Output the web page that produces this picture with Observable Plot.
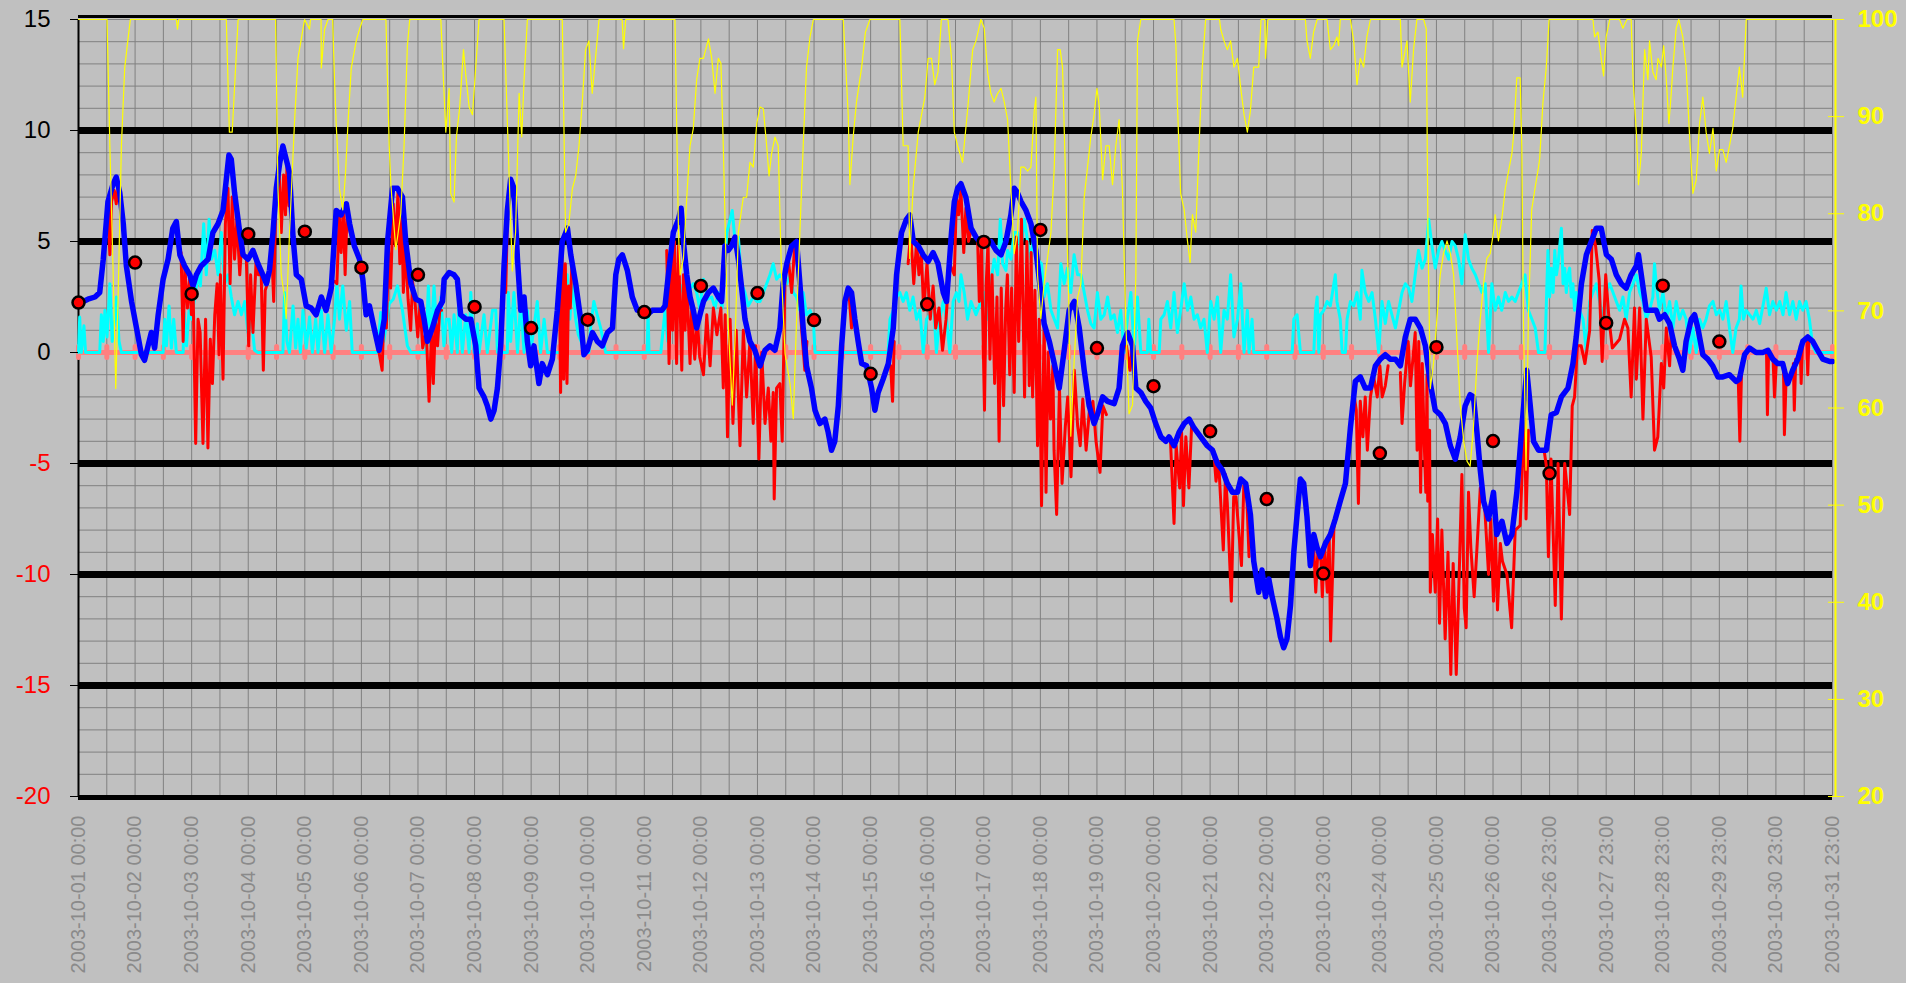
<!DOCTYPE html>
<html>
<head>
<meta charset="utf-8">
<script src="https://cdn.jsdelivr.net/npm/d3@7"></script>
<script src="https://cdn.jsdelivr.net/npm/@observablehq/plot@0.6"></script>
<style>
  html, body { margin: 0; padding: 0; background: #ffffff; }
  #chart { width: 1906px; height: 983px; background: #c0c0c0; overflow: hidden; }
</style>
</head>
<body>
<div id="chart"></div>
<script>
// ---------- DATA ----------
// x = hours since 2003-10-01 00:00 (31 days, 744 hours)
const dayLabels = [
  "2003-10-01 00:00","2003-10-02 00:00","2003-10-03 00:00","2003-10-04 00:00","2003-10-05 00:00",
  "2003-10-06 00:00","2003-10-07 00:00","2003-10-08 00:00","2003-10-09 00:00","2003-10-10 00:00",
  "2003-10-11 00:00","2003-10-12 00:00","2003-10-13 00:00","2003-10-14 00:00","2003-10-15 00:00",
  "2003-10-16 00:00","2003-10-17 00:00","2003-10-18 00:00","2003-10-19 00:00","2003-10-20 00:00",
  "2003-10-21 00:00","2003-10-22 00:00","2003-10-23 00:00","2003-10-24 00:00","2003-10-25 00:00",
  "2003-10-26 00:00","2003-10-26 23:00","2003-10-27 23:00","2003-10-28 23:00","2003-10-29 23:00",
  "2003-10-30 23:00","2003-10-31 23:00"
];
const leftTicks = [15, 10, 5, 0, -5, -10, -15, -20];
const rightTicks = [100, 90, 80, 70, 60, 50, 40, 30, 20];
const thickLevels = [10, 5, -5, -10, -15];

// daily values (red dots), one per day at 00:00
const dailyValues = [2.25,4.05,2.64,5.33,5.44,3.82,3.5,2.05,1.1,1.48,1.82,3.0,2.68,1.46,-0.96,
  2.17,4.98,5.52,0.2,-1.52,-3.55,-6.6,-9.96,-4.54,0.24,-3.99,-5.44,1.33,3.01,0.49];

// smoothed series (blue) [hour, value]
const blueSeries = [
[0,2.2],[2,2.3],[4,2.4],[7,2.5],[9,2.7],[10.5,4.2],[12.5,6.8],[14.7,7.6],[16,7.9],[17.5,7.2],[19,5.8],[20.3,3.9],[22.5,2.3],[24.6,1.1],[26.7,-0.1],[28,-0.35],[29.5,0.3],[30.9,0.9],[32.3,0.2],[33.8,1.7],[35.9,3.3],[38,4.2],[40,5.6],[41.5,5.9],[43,4.4],[45,3.9],[47.2,3.5],[48.6,3.0],[50,3.5],[52,3.9],[55,4.2],[57,5.4],[59.2,5.8],[61.3,6.4],[62.7,7.8],[63.8,8.9],[64.8,8.7],[66.2,7.2],[68.4,5.4],[69.8,4.4],[71.9,4.2],[74,4.6],[76.1,4.0],[78.2,3.5],[79.7,3.1],[81,3.7],[82.5,5.4],[83.9,7.4],[85.3,8.5],[86.7,9.3],[88.1,8.7],[89.5,8.1],[91,5.2],[92.4,3.5],[94.5,3.3],[96.6,2.1],[98.7,2.0],[100.8,1.7],[103,2.5],[105,1.9],[107.2,2.9],[109.3,6.4],[111.4,6.2],[113.6,6.7],[115,5.8],[117,4.8],[119.2,4.2],[120.6,3.3],[122,1.7],[123.4,2.1],
[125.4,1.1],[127.5,0.1],[129.7,1.5],[131.1,5.0],[133.2,7.4],[135.3,7.4],[137.4,7.0],[138.8,5.0],[141,3.1],[143.1,2.4],[145.2,2.3],[146.6,1.5],[148,0.5],[150.1,1.1],[152.3,1.9],[154.4,2.3],[155.1,3.3],[157.2,3.6],[159.3,3.5],[160.7,3.3],[162.1,1.7],[164.3,1.5],[166.4,1.5],[168.5,0.3],[169.9,-1.6],[172,-2.0],[173.4,-2.4],[174.9,-3.0],[176.3,-2.6],[177.7,-1.6],[179.1,0.3],[180.5,3.9],[181.9,6.4],[183.3,7.8],[184.7,7.4],[186.2,4.2],[187.6,1.9],[189,2.5],[190.4,0.5],[191.8,-0.6],[193.2,0.3],[195.3,-1.4],[196.7,-0.5],[198.9,-1.0],[201,-0.3],[203.1,1.9],[205.2,5.0],[207.4,5.6],[208.8,4.4],[210.9,3.1],[213,1.5],[214.4,-0.1],[215.8,0.1],[218,0.9],[220.1,0.5],[222.2,0.3],[224.4,0.9],[226.5,1.1],[227.9,3.5],[229.2,4.2],[230.7,4.4],[232.8,3.7],[234.9,2.5],[237,1.9],[239.1,1.9],[241.2,1.7],[243.4,1.9],[246.2,1.9],
[247.4,1.9],[248.8,2.1],[250.2,3.5],[252.3,5.4],[254.5,6.0],[255.6,6.5],[256.6,5.0],[258,3.5],[259.4,2.5],[260.8,1.9],[262.2,1.1],[263.6,1.7],[265.1,2.3],[267.2,2.7],[269.3,2.9],[271.4,2.5],[272.8,2.3],[274.2,4.8],[275.6,4.6],[277,4.8],[278.5,5.2],[279.9,4.2],[281.3,2.9],[282.7,1.5],[284.8,0.5],[286.9,0.1],[289.1,-0.6],[291.2,0.1],[293.3,0.3],[295.4,0.1],[297.5,1.1],[298.9,3.1],[300.4,4.0],[302.5,4.8],[304.6,5.0],[306,3.1],[307.4,1.1],[308.8,-0.6],[310.9,-1.6],[312.4,-2.6],[314.5,-3.2],[316.6,-3.0],[318,-3.6],[319.4,-4.4],[320.8,-4.0],[322.3,-2.4],[323.7,0.3],[325.1,2.3],[326.5,2.9],[327.9,2.7],[329.3,1.5],[330.7,0.5],[332.2,-0.5],[334.3,-0.6],[336.4,-1.6],[337.8,-2.6],[339.2,-1.8],[341.3,-1.2],[343.5,-0.5],[345.6,1.1],[347,3.5],[349.1,5.4],[351.2,6.0],[352.6,6.2],[354.1,5.0],[356.2,4.8],[358.3,4.4],[360.4,4.1],[362.5,4.5],[364.6,4.0],[366.8,2.7],[368.2,2.3],[370.3,5.4],
[371.5,6.8],[372.9,7.4],[374.3,7.6],[376.4,7.0],[378.6,5.6],[380.7,5.2],[382.8,4.9],[384.9,5.0],[387,5.0],[389.2,4.6],[391.3,4.4],[393.4,5.0],[395.5,6.2],[396.9,7.4],[398.3,7.2],[399.8,6.8],[401.9,6.4],[404,5.8],[406.1,4.6],[408.2,2.7],[409.6,1.3],[411.8,0.5],[413.9,-0.5],[416,-1.6],[418.1,0.1],[420.2,1.9],[422.4,2.3],[424.5,1.1],[426.6,-0.8],[428.7,-2.4],[430.8,-3.2],[432.2,-2.8],[434.4,-2.0],[436.5,-2.2],[439.3,-2.3],[441.4,-1.6],[442.8,0.3],[445,0.9],[447.1,0.3],[448.5,-1.6],[450.6,-1.8],[452.7,-2.2],[454.8,-2.5],[456.9,-3.2],[459.1,-3.8],[461.2,-4.0],[462.6,-3.8],[464.7,-4.2],[466.8,-3.6],[469,-3.2],[471.1,-3.0],[473.2,-3.4],[476,-3.8],[478.8,-4.2],[481,-4.4],[483.1,-5.0],[485.2,-5.3],[487.3,-5.9],[489.5,-6.3],[491.6,-6.3],[493,-5.7],[495.1,-5.9],
[497.1,-7.3],[498.5,-9.4],[500.6,-10.8],[502,-9.8],[503.5,-11.0],[504.9,-10.2],[506.3,-11.0],[508.4,-12.0],[509.8,-12.8],[511.2,-13.3],[512.6,-12.9],[514.1,-11.4],[515.5,-9.0],[516.9,-7.3],[518.3,-5.7],[519.7,-5.9],[521.1,-7.4],[522.5,-9.6],[524,-8.2],[525.4,-8.8],[526.8,-9.2],[528.9,-8.6],[531,-8.2],[533.1,-7.5],[535.2,-6.7],[537.4,-5.9],[539.5,-3.4],[541.6,-1.3],[543.7,-1.1],[545.8,-1.6],[548,-1.6],[550.1,-0.6],[552.2,-0.3],[554.3,-0.1],[556.4,-0.3],[558.6,-0.3],[560.7,-0.6],[562.8,0.7],[564.9,1.5],[567,1.5],[569.2,1.1],[571.3,0.3],[573.4,-1.4],[575.5,-2.6],[577.6,-2.8],[579.8,-3.2],[581.9,-4.2],[584,-4.8],[586.1,-3.8],[588.2,-2.4],[590.3,-1.9],[591.7,-2.0],[593.2,-3.6],[594.6,-5.3],[596,-6.7],[598.1,-7.5],[600.2,-6.3],[601.6,-8.2],[603.8,-7.6],[605.9,-8.6],[608,-8.2],[610.1,-6.3],[612.2,-3.4],[614.3,-0.8],[615.8,-2.4],[617.2,-4.0],[619.3,-4.4],
[622.6,-4.4],[624.7,-2.8],[626.9,-2.7],[629,-2.0],[631.8,-1.6],[633.9,-0.5],[635.3,0.7],[637.5,3.1],[639.6,4.4],[641.7,5.0],[643.8,5.6],[645.9,5.6],[648.1,4.4],[650.2,4.2],[652.3,3.5],[654.4,3.1],[656.5,2.9],[658.6,3.5],[660.8,3.9],[661.7,4.4],[662.9,3.5],[665,1.9],[667.1,1.9],[669.2,1.9],[670.6,1.5],[672.8,1.7],[674.9,1.3],[677,0.3],[679.1,-0.3],[680.5,-0.8],[681.9,0.5],[684.1,1.5],[685.5,1.7],[686.9,1.1],[689,-0.1],[691.1,-0.3],[693.2,-0.6],[695.4,-1.1],[697.5,-1.1],[700.3,-1.0],[703.1,-1.3],[704.5,-1.2],[706.7,-0.1],[708.8,0.2],[711.6,0.0],[714.4,0.0],[716.6,0.1],[718.7,-0.3],[720.8,-0.5],[722.9,-0.5],[725,-1.4],[727.1,-0.8],[729.3,-0.3],[731.4,0.5],[733.5,0.7],[735.6,0.5],[737.7,0.1],[739.9,-0.3],[742.7,-0.4],[744,-0.4]
];

// raw series (red), visible segments [hour, value]
const redSegments = [
[[12.5,6.5],[13.3,4.4],[14,6.8],[15.2,7.3],[16,6.7],[17,7.6]],
[[43.5,4.5],[44.4,0.5],[45.1,3.9],[46.2,2.0],[47.2,3.4],[47.9,1.7],[48.6,2.9],[49.7,-4.1],[50.7,1.5],[51.6,0.9],[52.8,-4.1],[53.9,1.5],[54.9,-4.3],[55.9,0.6],[56.8,-1.4],[57.8,1.7],[58.8,3.1],[59.6,-0.1],[60.2,3.5],[61.3,-1.2],[62.3,5.8],[63.4,7.4],[64.3,3.1],[65.2,7.0],[66.2,4.2],[67.2,6.0],[68.4,3.5],[69.3,5.0],[70.2,4.4],[71.2,4.2],[72.2,0.3],[73,3.5],[74,0.9],[75.4,4.3],[76.3,3.5],[77.5,3.5],[78.4,-0.8],[79.2,2.8],[80.4,3.2]],
[[82,4.5],[82.8,2.3],[83.6,6.5],[85,8.5],[86,5.4],[87,8.0],[87.8,6.2],[88.5,8.6],[89.3,6.6],[90.3,7.5]],
[[108.6,3.2],[109.6,3.1],[110.6,6.2],[111.4,4.5],[112.3,6.5],[113.1,3.5],[114,6.6],[115,5.5],[116.4,4.9]],
[[127,0.3],[128.8,-0.8],[129.5,1.6],[130.6,1.1],[131.5,4.6],[132.4,2.9],[133.5,6.7],[134.5,4.8],[135.5,7.2],[136.3,4.0],[137,6.8],[137.8,2.7],[138.6,4.8],[139.8,2.4],[140.9,1.0],[141.7,3.2],[142.8,2.2],[143.9,0.7],[144.9,2.2],[146,0.2],[147.5,1.0],[148.7,-2.2],[149.8,1.1],[150.5,-1.4],[151.4,1.4],[152.3,0.3],[153.2,1.9],[154,1.9]],
[[180.5,3.0],[181.2,2.7],[182,6.3],[183,7.6]],
[[204,3.0],[204.5,-1.8],[205.1,4.5],[205.8,-1.2],[206.5,4.0],[207.2,-1.4],[207.9,3.0],[208.6,2.0],[209.4,4.3]],
[[249.5,4.6],[250.5,-0.5],[251.3,4.5],[252,1.0],[252.8,5.0],[253.7,-0.5],[254.5,4.8],[255.9,-0.8],[256.6,3.5],[257.3,1.0],[258,3.3],[259.4,-0.5],[260.1,2.0],[261.4,-0.3],[262.5,1.5],[263.5,-0.2],[265.1,-1.0],[266.5,1.7],[267.9,-0.6],[269.3,2.0],[270.8,0.8],[272.5,2.0],[273.5,-1.6],[274.3,1.7],[275.3,-3.8],[276.4,1.5],[277.6,-3.2],[279,1.0],[280.6,-4.2],[282,1.0],[283.4,-2.0],[284.8,0.5],[286.2,-3.2],[287.2,0.3],[288.6,-4.8],[289.8,0.0],[291.2,-3.2],[292.6,-1.6],[293.7,-4.0],[294.7,-1.8],[295.1,-6.6],[296.1,-1.6],[297.5,-1.4],[298.5,-4.0],[299.7,3.5],[301.1,4.2],[302.5,2.7],[303.9,5.0],[305.3,3.5],[306.7,1.1],[308.1,-0.8],[309,0.5]],
[[326.8,2.7],[327.9,1.1],[328.8,2.0]],
[[344.5,-0.6],[345.3,-2.2],[346,0.5]],
[[351.9,4.0],[353,5.4],[354.3,3.1],[355.5,5.0],[356.5,3.5],[357.5,4.5],[358.5,1.9],[359.9,4.0],[361.3,1.5],[362.5,3.0],[363.6,1.1],[365,2.0],[366.5,0.1],[368,1.5],[369.5,4.0],[371.5,3.5],[372.4,7.0],[373.3,6.2],[374.3,7.3],[375.5,4.5],[376.4,6.5],[377.5,5.0],[378.6,5.5]],
[[381.4,5.0],[382.1,2.3],[383,4.8],[384.3,-2.6],[385,3.0],[385.8,5.0],[386.6,-0.3],[387.5,3.5],[388.6,-1.4],[389.6,2.5],[390.5,-4.0],[391.4,2.9],[392.4,-2.4],[393.3,2.0],[394,3.5],[395,-1.0],[395.8,2.9],[396.9,-1.8],[397.8,5.2],[398.8,0.5],[400,6.0],[401.3,-2.0],[402.3,5.0],[403.3,-1.5],[404.1,4.5],[404.7,-2.0],[405.7,2.8],[406.8,-4.2],[407.5,1.5],[408.5,-6.9],[409.6,1.5],[410.4,-6.3],[411.3,0.0],[412.3,-3.0],[413.3,-0.6],[413.8,-4.4],[414.9,-7.3],[416.1,-1.6],[417.2,-5.9],[418.6,-3.3],[419.6,-2.0],[421,-5.6],[422.4,-0.8],[423.8,-3.3],[424.9,-4.2],[426,-2.1],[427.4,-4.4],[428.8,-2.6],[430.3,-2.2],[431.6,-4.0],[433.3,-5.4],[434.5,-2.4],[436,-2.8]],
[[444.5,0.3],[446,-0.8],[447,0.3]],
[[463.2,-4.0],[464.7,-7.7],[465.6,-4.2],[467.1,-6.1],[467.9,-3.6],[468.7,-6.9],[469.7,-3.8],[471,-6.1],[472.2,-3.2]],
[[481.5,-4.4],[482.5,-5.8],[483.6,-4.9],[485.6,-8.9],[486.5,-5.5],[487.3,-6.8],[489,-11.2],[490,-6.5],[491,-6.5],[493.3,-9.6],[494.3,-6.0],[495.5,-6.3],[496.5,-9.2]],
[[523.7,-8.2],[524.8,-10.8],[525.8,-8.8],[527,-9.4],[527.6,-11.0],[528.5,-8.6],[529.7,-10.8],[530.5,-8.2],[531.1,-13.0],[532.5,-7.9],[533.5,-7.3]],
[[540.9,-1.8],[542,-2.6],[542.9,-6.8],[543.7,-2.2],[544.8,-3.8],[545.8,-2.0],[546.7,-4.4],[548,-2.0],[549.4,-1.1],[550.9,-2.0],[552,-0.6],[553,-2.0],[554.3,-1.5],[555.5,-0.6]],
[[560.7,-0.9],[561.4,-3.2],[562.5,-1.4],[564,0.5],[565,-1.5],[567,0.9],[567.8,-4.4],[568.5,0.5],[569.3,-6.3],[570,-0.5],[570.8,-4.0],[571.5,-6.3],[572,-1.0],[572.3,-6.7],[573.1,-3.5],[573.4,-10.8],[574.3,-8.2],[575.5,-10.8],[576.5,-7.5],[577.3,-12.2],[578.3,-8.0],[579.7,-12.9],[580.9,-9.0],[582.1,-14.5],[583.1,-9.5],[584.4,-14.5],[585.4,-11.0],[586.8,-5.5],[587.8,-11.5],[588.6,-12.4],[589.6,-6.3],[590.6,-8.8],[592,-11.0],[593.2,-8.8],[594.6,-6.1]],
[[596.5,-7.0],[598.1,-10.0],[599,-7.5],[600.2,-11.2],[601,-8.0],[601.9,-11.6],[603.1,-8.6],[604,-9.4],[605.9,-10.0],[607.9,-12.4],[609.4,-8.0],[611.5,-7.8],[612.5,-5.0],[613.5,-3.0],[614,-7.5],[615,-3.5]],
[[621.8,-4.5],[622.6,-5.1],[623.5,-9.2],[624.6,-4.8],[626.4,-11.4],[627.6,-5.0],[629,-12.0],[630.4,-5.0],[631.8,-6.5],[632.5,-7.3],[633.6,-2.4],[634.6,-2.0],[635.8,0.3],[637.4,0.3],[639,-0.5],[641,1.0],[642.1,5.5],[643.5,4.8],[645,3.3],[646.3,-0.4],[647.8,3.5],[649.2,1.5],[650.6,0.2],[653.7,0.6],[655.8,1.5],[657.2,1.1],[658.6,-2.0],[660,2.0],[660.8,-1.2],[662.2,2.0],[663.6,-3.0],[665,1.5],[667.1,-0.2],[668.5,-4.4],[669.9,-3.8],[671.4,-0.5],[672.4,-1.6],[673.5,1.1],[674.9,-0.6],[675.6,1.0],[676.5,0.5]],
[[704,-1.1],[704.7,-4.0],[705.5,-0.5]],
[[716,0.1],[716.4,-2.8],[716.9,0.1]],
[[718.8,-0.3],[719.4,-2.0],[720.2,-0.4]],
[[723.2,-0.6],[723.6,-3.7],[724.3,-1.2]],
[[727.4,-0.5],[727.8,-2.6],[728.4,-0.3]],
[[730.3,0.3],[730.7,-1.4],[731.3,0.5]],
[[733.1,0.6],[733.5,-1.0],[734,0.6]]
];

// cyan series [hour, value]
const cyanSeries = [
[0,0],[0.5,1.6],[1.2,0],[2.3,1.2],[3,0],[9,0],[9.7,1.7],[10.5,0.5],[11.2,1.9],[12.1,0.7],[13.3,3.1],[14.3,0.5],[15.4,1.5],[16.1,2.5],[17.2,0.5],[18.2,0],[35.9,0],[36.6,1.5],[37.3,0.3],[38.4,2.1],[39.4,0.2],[40.4,1.5],[41.5,0],[44.4,0],[44.8,1.8],[45.8,0.3],[46.9,1.9],[47.9,1.5],[49.3,2.5],[50.7,3.5],[51.7,3.0],[53.1,5.8],[54.2,3.5],[55.4,6.0],[56.4,4.2],[57.8,4.6],[59.2,3.5],[60.6,5.4],[62,3.1],[63.4,3.5],[64.8,2.5],[66.2,1.7],[67.7,2.3],[69.1,1.7],[70.5,2.3],[71.9,0.9],[73.3,1.5],[74.7,0.1],[76.1,0],[86.7,0],[87.4,2.7],[88.4,0.5],[89.5,0],[91,2.1],[92.1,0.2],[93.1,1.5],[94.1,0],[95.2,1.9],[96.6,0.2],[98,1.6],[99.2,0],[100.6,1.5],[101.6,0],[103,1.9],[104.4,0],[105.8,1.7],[107.2,0],[108.6,1.5],[109.6,3.1],[110.7,1.5],[112.1,3.0],[113.6,1.0],[115,2.3],[116.1,0],[123,0],
[126.8,0],[128.2,1.8],[129.5,0.5],[131.8,2.2],[133.5,2.4],[135.3,3.0],[137.4,1.9],[139.5,0.3],[141,0],[147.3,0],[148.4,3.0],[149.4,0.3],[150.8,3.0],[152.3,0.5],[153.7,2.5],[155,0.3],[156,1.5],[157.2,1.5],[158.3,0],[159.3,1.7],[160.7,0],[161.4,2.5],[162.8,0],[164.3,1.7],[165.7,0],[166.4,2.7],[167.8,0],[169.2,1.3],[169.9,0],[172,1.7],[173.4,0],[175.6,1.9],[177,1.9],[177.7,0],[181.9,0],[182.3,2.7],[183.3,0.5],[184.7,2.7],[186.2,0],[187.6,2.3],[189,0],[190.4,1.9],[191.8,0],[194.6,2.3],[196,0],[197.5,1.5],[198.9,0],[206.6,0],[207.3,3.5],[208.4,1.5],[209.5,3.1],[210.9,1.5],[212,0.8],[215.1,0],[216.5,0],[217.2,1.1],[218.6,2.3],[220,1.7],[221.5,1.1],[223.6,0],[241.2,0],[241.6,1.9],[242,0],[247,0],
[248.8,1.9],[250,0.5],[251.6,3.5],[253,2.0],[255.9,3.0],[257.5,2.2],[259,2.8],[260.8,3.1],[262.2,2.7],[263.5,2.0],[265.1,3.3],[266.8,2.4],[268.6,2.5],[270,2.0],[271.4,2.7],[273,2.0],[275,5.4],[276.4,6.0],[277.3,6.4],[278.5,5.0],[279.9,5.2],[281.3,3.1],[282.7,2.7],[284.1,2.1],[286.2,2.5],[287.7,2.3],[289.1,2.3],[290.5,2.7],[291.9,3.1],[293.3,3.5],[294.7,4.0],[296.1,3.3],[297.5,3.5],[299,3.3],[300.4,3.1],[301.8,3.5],[303.2,2.7],[304.6,2.5],[306,1.9],[307.4,2.7],[308.8,1.7],[310.3,1.9],[311.7,1.5],[312.4,0],[343.4,0],[344.2,1.5],[345.6,1.9],[347,2.5],[348.4,2.7],[349.8,2.3],[351.2,2.7],[352.6,1.9],[354,2.5],[355.5,1.5],[356.9,1.9],[358.3,0],[359.7,1.5],[361.1,1.7],[362.5,2.5],[363.9,0],[365.3,1.5],[366.8,2.3],[368.2,1.5],[369.6,0],[371,2.3],[372.4,2.7],
[373.5,2.3],[374.3,3.5],[375.7,2.7],[377.1,1.5],[378.6,2.3],[380.7,1.7],[382.1,2.1],[384.2,2.7],[385.6,1.5],[387,3.1],[388.4,4.2],[389.9,3.5],[391,6.0],[392,4.0],[393.4,3.7],[394.1,4.6],[395.5,4.2],[396.9,5.4],[398.3,5.4],[399.7,4.6],[401.2,6.0],[402.6,5.0],[404,4.2],[405.4,5.4],[406.8,4.2],[408.5,4.0],[409.6,2.5],[411,3.1],[412.5,1.9],[413.9,1.5],[415.3,1.1],[416.7,4.0],[418.1,3.1],[419.5,3.8],[420.9,2.7],[422.3,4.4],[423.8,3.5],[425.2,3.5],[426.6,2.7],[428,1.9],[429.4,1.3],[430.8,1.1],[432.2,2.7],[433.6,1.5],[435.1,1.7],[436.5,2.5],[437.9,1.5],[439.3,1.7],[440.7,0.9],[442.1,1.9],[443.5,0],[444.9,1.5],[446.4,2.7],[447.8,0],[449.2,2.5],[450.6,0],[453.4,0],[454,1.5],[454.8,0],[458.4,0],[459.1,1.5],[460.5,1.7],[461.9,2.3],[463.3,1.1],[464.7,2.7],[466.1,0.9],[467.5,1.9],[469,3.1],[470.4,1.9],[471.8,2.5],[473.2,1.5],[474.6,1.7],[476,1.1],[477.4,1.5],[478.8,0],[480.3,2.3],[481.7,1.5],[483.1,2.5],[484.5,0],[485.9,1.9],[487.3,1.5],[488.7,3.5],[490.1,0.7],[491.6,1.5],[493,3.1],[494.4,0],[495.8,1.9],
[496.5,0],[497.8,1.5],[498.5,0],[514.8,0],[515.5,1.5],[516.9,1.7],[518.3,0],[524,0],[524.7,1.9],[525.4,2.5],[526.1,0],[526.8,1.7],[528.2,1.9],[529.6,2.3],[531,2.1],[533.1,3.5],[533.8,2.3],[535.2,1.5],[536,0],[537.4,0],[538.1,1.5],[539.5,2.3],[540.9,2.1],[542.3,2.7],[543.7,1.5],[544.4,3.7],[545.8,2.7],[547.3,2.3],[548.7,2.7],[550.1,1.5],[551.5,0],[552.9,2.3],[554.3,1.3],[555.7,2.3],[557.1,1.7],[558.6,1.1],[560,1.9],[561.4,2.7],[562.8,3.1],[564.2,2.9],[565.6,2.3],[567,3.5],[568.4,4.6],[569.9,3.8],[571.3,4.2],[572.7,6.0],[574.1,4.8],[575.5,3.8],[576.9,4.6],[578.3,5.0],[579.7,4.6],[581.2,4.2],[582.6,5.0],[584,4.8],[585.4,4.2],[586.8,3.1],[588.2,5.3],[589.6,4.2],[591,3.8],[592.5,3.5],[593.9,3.1],[595.3,2.7],[596.7,3.1],[598.1,0],[599.5,3.1],[600.9,1.9],[602.3,2.5],[603.7,1.9],[605.2,2.7],[606.6,2.3],[608,2.5],[609.4,2.3],[610.8,2.7],[612.2,3.1],[613.6,3.5],[615,1.9],[616.5,1.5],[617.9,1.1],[619.3,0],
[622,0],[623.3,4.6],[624,2.5],[624.7,3.8],[625.5,2.7],[626.2,4.6],[626.9,3.5],[627.6,4.0],[629,5.6],[629.7,3.1],[630.4,3.8],[631.1,2.7],[631.8,3.5],[632.5,3.8],[633.2,2.5],[633.9,3.1],[634.6,1.9],[635.3,2.7],[636.7,1.9],[638.2,1.5],[639.6,0],[641,2.3],[642.4,2.7],[643.8,3.1],[645.2,2.3],[646.6,1.5],[648,2.7],[649.5,3.1],[650.9,2.7],[652.3,2.3],[653.7,1.9],[655.1,2.5],[656.5,1.5],[657.9,2.7],[659.4,3.1],[660.8,3.5],[662.2,2.7],[663.6,2.3],[665,1.5],[666.4,1.9],[667.8,2.5],[668.5,4.0],[669.2,3.1],[670.6,1.9],[672.1,2.7],[673.5,1.5],[674.9,2.3],[676.3,1.1],[677.7,2.3],[679.1,1.5],[680.5,1.9],[681.9,1.5],[683.4,0],[684.8,1.1],[686.2,0],[687.6,1.5],[689,1.1],[690.4,1.5],[691.8,2.1],[693.3,2.3],[694.7,1.7],[696.1,1.9],[697.5,1.5],[698.9,2.3],[700.3,1.1],[701.7,0],[703.1,1.1],[704.5,1.5],[705.2,3.0],[706.2,1.5],[707.4,1.9],[708.8,1.7],[710.3,1.5],[711.7,1.9],[713.1,1.3],[714.5,2.1],[715.9,2.9],[717.3,1.7],[718.7,2.3],[720.2,1.9],[721.6,2.3],[723,1.7],[724.3,2.7],[725.8,1.7],[727.2,2.3],[728.6,1.5],[730,2.3],[731.4,1.9],[732.8,2.3],[734.2,1.5],[735.6,0.3],[737,0],[744,0]
];

// yellow series, right axis (20..100) [hour, value]
const yellowSeries = [
[0,100],[12.1,100],[13.3,87],[14.7,74],[15.8,62],[16.8,71.4],[18.2,87],[19.6,95],[21,98],[22,100],[41.5,100],[42,99],[42.5,100],[62.7,100],[64,88.4],[65.2,88.4],[67.7,100],[83.6,100],[84.6,82.6],[86,73.7],[87.4,71.4],[88.1,69.2],[89.5,78],[91.6,89.3],[93.1,96],[95.9,100],[98,99],[98.4,100],[102.9,100],[103,95],[104.4,99],[105.8,100],[107.8,100],[108.6,93.8],[109.3,89.3],[110.7,82.6],[112.1,80.4],[113.2,83.9],[114.3,89.3],[115.7,95],[117.8,97.8],[119.2,99],[120.6,100],
[130.4,100],[131.8,87],[132.5,83],[134.6,76.3],[136.7,80],[138.1,87],[139.5,97.3],[140.5,100],[153.7,100],[154.4,96],[155.8,88.4],[157.2,92.9],[157.9,82.1],[159.3,81.2],[160.3,87.9],[161.7,91],[163.3,96.9],[164.3,94.2],[165.7,91],[167.1,90.2],[168.5,95.1],[169.9,100],[180.5,100],[182.6,84.4],[184,74.1],[185.4,78.1],[186.9,92.4],[188,87.9],[189,93.8],[190.4,100],[205.2,100],[206.6,78.1],[208,79],[209.5,82.6],[210.9,83.9],[212.3,87],[213.7,91.5],[215.1,96.9],[216.5,97.8],[217.9,92.4],[219.3,96],[220.8,100],[230.6,100],[231.2,97],[232.1,100],
[253,100],[254.5,78.1],[255.2,73.7],[256.6,75.4],[258,81.7],[259.4,87],[260.8,88.8],[262.2,93.8],[263.6,96],[265.1,96],[267.2,98],[268.6,96],[270,92.4],[271.4,96],[272.5,95.5],[273.5,87],[275,71.4],[276.4,64.7],[277.3,60.3],[278.5,67],[279.9,78.1],[282,81.7],[283.4,81.7],[284.8,85.3],[286.2,84.8],[287.7,89.3],[289.1,91],[290.5,90.8],[291.9,87],[292.9,83.9],[294,86.2],[295.4,87.9],[296.8,87],[298.2,73.7],[299.7,65.6],[301.8,62.5],[303.2,58.9],[304.6,69.2],[306,78.1],[307.4,87],[308.8,95.1],[310.3,98.2],[311.7,100],[324.4,100],[326.5,90.2],[327.2,83],[328.6,87.9],[330,91.5],[332.2,95.1],[333.8,98.7],[335.7,100],[348.4,100],[349.8,87],[351.9,87],[352.6,75.4],[354,82.6],[356.2,88.4],[357.6,90.2],[359,92],[360.4,96],[361.8,96],[363.2,93.3],[364.6,94.6],[366,100],[368.8,100],[370.3,96],
[371.5,88.4],[372.9,87],[375,85.3],[377.1,90.6],[379.3,96.9],[380.7,97.8],[382.8,100],[384.2,99.1],[385.6,94.6],[387,92.4],[388.4,91.5],[389.9,92.4],[391.3,92.9],[392.7,91.5],[394.1,89.7],[395.5,82.6],[396.9,75.9],[398.3,78.1],[399.7,84.8],[401.2,84.8],[402.6,84.4],[404,84.8],[405.4,90.6],[406.1,92],[406.8,73.7],[408.2,69.2],[409.6,72.8],[411,75.4],[412.5,78.1],[413.9,84.8],[415.3,96.9],[416.4,96.9],[417.4,95.1],[418.8,82.6],[420.2,69.2],[420.9,57.1],[422.3,64.7],[423.8,71.4],[425.2,72.8],[426.6,81.7],[428,84.8],[429.4,87.9],[430.8,90.2],[432,92.9],[433,91],[434.4,83.5],[435.8,87],[437.2,87],[438.6,83],[440,87],[441.4,89.7],[442.8,82.6],[444.2,69.2],[445.6,59.4],[447.1,60.3],[448.5,73.7],[449.2,97.8],[450.6,100],[464.7,100],[465.5,97.3],[466.1,91.5],[467.5,82.1],[469,80.4],[470.4,77.2],[471.5,75],[472.5,79.9],[473.9,78.1],[475.3,87],[476.7,95.1],[478.1,100],[484,100],[484.5,99],[485.9,97.8],[487.3,96.9],[488.7,97.8],[490.1,95.1],[491.6,96],[493,92.9],[494.4,90.2],[495.8,88.4],
[497.1,90.6],[498.5,95.1],[500.6,95.1],[501.6,100],[503.2,100],[503.5,96],[504.5,100],[520.4,100],[521.1,97.8],[522.5,96],[523.9,98.7],[525.4,100],[529.6,100],[531,96.9],[532.4,97.3],[533.8,98.2],[534.5,97.3],[535.2,100],[539.5,100],[540.9,97.8],[542.3,93.3],[543.7,96],[545.1,95.1],[546.5,98.2],[548,100],[560.7,100],[561.4,95.1],[562.1,96],[563.5,97.8],[564.9,91.5],[566.3,96.9],[567.7,100],[570.6,100],[571.7,99],[572.4,78.1],[573.4,62],[574.8,64.7],[576.2,69.2],[577.6,73.7],[579,75.9],[580.5,77.2],[581.9,75.9],[583.3,73.7],[584.7,67],[586.1,60.3],[587.5,56.7],[589,54.5],[590.3,54],[591.7,58],[593.2,64.7],[594.6,69.2],[596,72.8],[597.4,75.4],[598.8,75.9],[600.2,78.1],[600.9,79.9],[602.3,77.2],[603.7,79.4],[605.2,82.6],[606.6,84.4],[608,86.2],[608.7,88],[610.1,94],[611.5,94],[612.2,87],[612.9,69.2],[614,53.6],[615,69.2],[616.4,80.4],[617.8,82.6],[619.3,84.8],
[619.8,85.7],[621.2,91.5],[622.6,95.1],[623.8,100],[642.4,100],[643.1,98.2],[644.5,98.7],[645.9,96],[646.9,94.2],[648,98.2],[649.5,100],[653.7,100],[655.1,99.1],[656.8,100],[658.6,100],[659.4,93.8],[660.8,88.4],[661.7,83],[662.9,86.2],[664.3,96.9],[665.7,93.8],[666.4,97.8],[667.8,94.6],[669.2,93.8],[670,96],[671.4,95.1],[672.4,97.3],[673.5,93.8],[674.6,89.3],[675.6,92.4],[676.3,95.1],[677.7,99.1],[678.8,100],[680.5,98.2],[681.9,95.1],[683.4,87.9],[684.8,82.1],[686.2,83.5],[687.6,89.3],[689,92],[690.4,88.4],[691.8,86.2],[693.3,88.8],[694.7,84.4],[696.1,86.6],[697.5,86.6],[698.9,85.3],[700.3,87],[701.7,88.8],[703.1,92],[704.5,95.1],[705.9,92],[707.4,100],[744,100]
];

// ---------- BUILD ----------
const HOURS = 744;
// right axis (20..100) shares the pixel range of the left axis (-20..15)
const rightToLeft = v => -20 + (v - 20) * 35 / 80;

const redRows = redSegments.flatMap((seg, i) => seg.map(([h, v]) => ({h, v, seg: i})));
const dailyRows = dailyValues.map((v, i) => ({h: i * 24, v}));
const dayTicks = dayLabels.map((_, i) => i * 24);
const halfDayTicks = d3.range(0, HOURS + 1, 12);
const unitGrid = d3.range(-20, 16, 1);

const FONT = "'Liberation Sans', Arial, Helvetica, sans-serif";

const chart = Plot.plot({
  width: 1906,
  height: 983,
  marginLeft: 78,
  marginRight: 74,
  marginTop: 19,
  marginBottom: 187,
  x: {domain: [0, HOURS], axis: null},
  y: {domain: [-20, 15], axis: null},
  style: {background: "transparent", fontFamily: FONT, overflow: "visible"},
  marks: [
    // grid
    Plot.ruleY(unitGrid, {stroke: "#808080", strokeWidth: 1}),
    Plot.ruleX(halfDayTicks, {stroke: "#808080", strokeWidth: 1}),
    Plot.ruleY(thickLevels, {stroke: "#000", strokeWidth: 7}),
    Plot.ruleY([15], {stroke: "#000", strokeWidth: 3, dy: -3}),
    Plot.ruleY([-20], {stroke: "#000", strokeWidth: 5, dy: 1}),
    Plot.ruleX([0], {stroke: "#000", strokeWidth: 2}),
    // zero reference series (pink) with markers
    Plot.ruleY([0], {stroke: "#ff8080", strokeWidth: 5}),
    Plot.ruleX(halfDayTicks, {y1: -0.25, y2: 0.25, stroke: "#ff8080", strokeWidth: 5, strokeLinecap: "round"}),
    // series
    Plot.line(cyanSeries, {x: d => d[0], y: d => d[1], stroke: "#00ffff", strokeWidth: 3}),
    Plot.line(redRows, {x: "h", y: "v", z: "seg", stroke: "#ff0000", strokeWidth: 3}),
    Plot.line(blueSeries, {x: d => d[0], y: d => d[1], stroke: "#0000ff", strokeWidth: 5.5, strokeLinejoin: "round"}),
    Plot.line(yellowSeries, {x: d => d[0], y: d => rightToLeft(d[1]), stroke: "#ffff00", strokeWidth: 1.2}),
    Plot.dot(dailyRows, {x: "h", y: "v", r: 6, fill: "#ff0000", stroke: "#000", strokeWidth: 2.5}),
    // left axis
    Plot.axisY({anchor: "left", label: null, ticks: leftTicks, tickSize: 8, tickFormat: () => "", stroke: "#000"}),
    Plot.text(leftTicks.filter(d => d >= 0), {y: d => d, frameAnchor: "left", dx: -28, text: d => String(d),
      textAnchor: "end", fontSize: 24, fill: "#000"}),
    Plot.text(leftTicks.filter(d => d < 0), {y: d => d, frameAnchor: "left", dx: -28, text: d => String(d),
      textAnchor: "end", fontSize: 24, fill: "#ff0000"}),
    // right axis (yellow)
    Plot.ruleX([HOURS], {stroke: "#ffff00", strokeWidth: 2, dx: 3}),
    Plot.axisY({anchor: "right", label: null, ticks: rightTicks.map(rightToLeft), tickSize: 16, dx: -5, tickFormat: () => "", stroke: "#ffff00"}),
    Plot.text(rightTicks, {y: d => rightToLeft(d), frameAnchor: "right", dx: 25, text: d => String(d),
      textAnchor: "start", fontSize: 24, fontWeight: "bold", fill: "#ffff00"}),
    // x axis
    Plot.axisX({label: null, ticks: dayTicks, tickFormat: h => dayLabels[Math.round(h / 24)], tickRotate: -90,
      tickSize: 0, tickPadding: 19, fontSize: 20, color: "#8a8a8a", fill: "#8a8a8a"})
  ]
});

document.getElementById("chart").appendChild(chart);
</script>
</body>
</html>
